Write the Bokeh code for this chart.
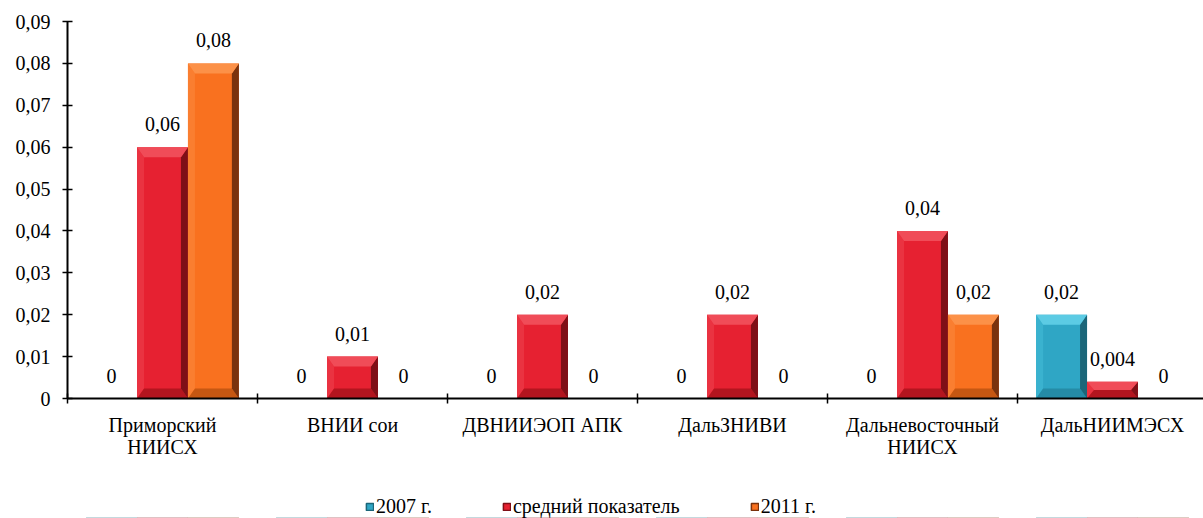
from bokeh.plotting import figure
from bokeh.models import (ColumnDataSource, Range1d, FixedTicker, CustomJSTickFormatter,
                          Legend, LegendItem)
from bokeh.layouts import column
from bokeh.embed import file_html
from bokeh.resources import INLINE
from bokeh.core.properties import value

# ---------------- data ----------------
categories = ["Приморский\nНИИСХ", "ВНИИ сои", "ДВНИИЭОП АПК", "ДальЗНИВИ",
              "Дальневосточный\nНИИСХ", "ДальНИИМЭСХ"]
series_names = ["2007 г.", "средний показатель", "2011 г."]
values_2007 = [0, 0, 0, 0, 0, 0.02]
values_avg = [0.06, 0.01, 0.02, 0.02, 0.04, 0.004]
values_2011 = [0.08, 0, 0, 0, 0.02, 0]
y_ticks = [0, 0.01, 0.02, 0.03, 0.04, 0.05, 0.06, 0.07, 0.08, 0.09]
y_tick_labels = ["0", "0,01", "0,02", "0,03", "0,04", "0,05", "0,06", "0,07", "0,08", "0,09"]

# ---------------- style ----------------
FONT = "Liberation Serif"
FS = "20px"
W = 1203
H_MAIN, H_LEG = 494, 24
LEFT, TOP = 67, 21
FRAME_H = 377
BOTTOM = H_MAIN - TOP - FRAME_H
CAT_PX = 190.0
FRAME_W = W - LEFT
YMAX = 0.09
XMAX = FRAME_W / CAT_PX
BAR_W = 0.268
offsets = [-BAR_W, 0.0, BAR_W]
# base, top-bevel, right-bevel, bottom-bevel, left-bevel
palettes = [
    ("#2fa6c5", "#5ccbe4", "#1b6679", "#258ba6", "#3ab2cf"),
    ("#e62131", "#f04c58", "#7f0f17", "#b3151f", "#ea3341"),
    ("#f9711f", "#fc9148", "#7a320d", "#c65712", "#fa7e30"),
]
all_series = [values_2007, values_avg, values_2011]

p = figure(width=W, height=H_MAIN, output_backend="svg", toolbar_location=None,
           x_range=Range1d(0, XMAX), y_range=Range1d(0, YMAX),
           min_border_left=LEFT, min_border_right=0, min_border_top=TOP,
           min_border_bottom=BOTTOM)
p.background_fill_color = "white"
p.border_fill_color = "white"
p.outline_line_color = None
p.xgrid.visible = False
p.ygrid.visible = False

px_x = 1.0 / CAT_PX          # data units per px along x
px_y = YMAX / FRAME_H        # data units per px along y
BX, BY = 7 * px_x, 10 * px_y

series_data = []
for si, vals in enumerate(all_series):
    base, ctop, cright, cbot, cleft = palettes[si]
    xs = [i + 0.5 + offsets[si] for i in range(len(categories))]
    series_data.append(dict(x=xs, top=vals))
    src = ColumnDataSource(dict(x=xs, top=vals))
    p.vbar(x="x", top="top", bottom=0, width=BAR_W, source=src,
           fill_color=base, line_color=None)
    tops, rights, bots, lefts = ([], []), ([], []), ([], []), ([], [])
    for x, v in zip(xs, vals):
        if v <= 0:
            continue
        x0, x1, y0, y1 = x - BAR_W / 2, x + BAR_W / 2, 0.0, v
        by = min(BY, v / 2.0)
        bx = BX
        tops[0].append([x0, x1, x1 - bx, x0 + bx]); tops[1].append([y1, y1, y1 - by, y1 - by])
        rights[0].append([x1, x1, x1 - bx, x1 - bx]); rights[1].append([y1, y0, y0 + by, y1 - by])
        bots[0].append([x0, x1, x1 - bx, x0 + bx]); bots[1].append([y0, y0, y0 + by, y0 + by])
        lefts[0].append([x0, x0, x0 + bx, x0 + bx]); lefts[1].append([y0, y1, y1 - by, y0 + by])
    for (pxs, pys), col in ((lefts, cleft), (bots, cbot), (rights, cright), (tops, ctop)):
        if pxs:
            p.patches(pxs, pys, fill_color=col, line_color=None)
    # data labels
    labels = [("%g" % v).replace(".", ",") for v in vals]
    p.text(x=xs, y=vals, text=labels, text_font=value(FONT), text_font_size=FS,
           text_align="center", text_baseline="middle", y_offset=-23, text_color="black")

# ---------------- axes ----------------
yax = p.yaxis[0]
yax.ticker = FixedTicker(ticks=y_ticks)
yax.formatter = CustomJSTickFormatter(args=dict(yt=y_ticks, yl=y_tick_labels), code="""
let best = 0;
for (let i = 0; i < yt.length; i++) {
  if (Math.abs(yt[i] - tick) < Math.abs(yt[best] - tick)) best = i;
}
return yl[best];
""")
yax.axis_line_width = 2
yax.axis_line_color = "black"
yax.major_tick_in = 5
yax.major_tick_out = 5
yax.major_tick_line_width = 1.5
yax.minor_tick_line_color = None
yax.major_label_text_font = FONT
yax.major_label_text_font_size = FS
yax.major_label_text_color = "black"
yax.major_label_standoff = 12

centers = [i + 0.5 for i in range(len(categories))]
bounds = [float(i) for i in range(len(categories) + 1)]
xax = p.xaxis[0]
xax.ticker = FixedTicker(ticks=centers, minor_ticks=bounds)
xax.formatter = CustomJSTickFormatter(args=dict(cats=categories), code="""
return cats[Math.round(tick - 0.5)];
""")
xax.axis_line_width = 2
xax.axis_line_color = "black"
xax.major_tick_line_color = None
xax.minor_tick_line_color = "black"
xax.minor_tick_line_width = 1.5
xax.minor_tick_in = 5
xax.minor_tick_out = 5
xax.major_label_text_font = FONT
xax.major_label_text_font_size = FS
xax.major_label_text_color = "black"
xax.major_label_standoff = 9
xax.major_label_text_line_height = 1.0

# ---------------- legend (own strip below the chart) ----------------
# The strip's y range lies far above all values, so its bars stay out of view;
# only the legend swatches and labels are visible.
lf = figure(width=W, height=H_LEG, output_backend="svg", toolbar_location=None,
            x_range=Range1d(0, XMAX), y_range=Range1d(1000, 1001),
            x_axis_location=None, y_axis_location=None,
            min_border_left=LEFT, min_border_right=0, min_border_top=0, min_border_bottom=0)
lf.outline_line_color = None
lf.xgrid.visible = False
lf.ygrid.visible = False
lf.background_fill_color = "white"
lf.border_fill_color = "white"
leg_renderers = []
for si in range(len(series_names)):
    base, ctop, cright, cbot, cleft = palettes[si]
    leg_renderers.append(lf.vbar(x="x", top="top", bottom=0, width=BAR_W,
                                 source=ColumnDataSource(series_data[si]),
                                 fill_color=base, line_color=cright, line_width=1.5))
legend = Legend(items=[LegendItem(label=n, renderers=[r])
                       for n, r in zip(series_names, leg_renderers)],
                orientation="horizontal", location=(365 - LEFT, 0),
                label_text_font=FONT, label_text_font_size=FS, label_text_color="black",
                glyph_width=9, glyph_height=9, label_standoff=2, spacing=70,
                border_line_color=None, background_fill_alpha=0,
                padding=0, margin=0)
lf.add_layout(legend)

layout = column(p, lf, spacing=0)
open("out.html", "w").write(file_html(layout, INLINE))
